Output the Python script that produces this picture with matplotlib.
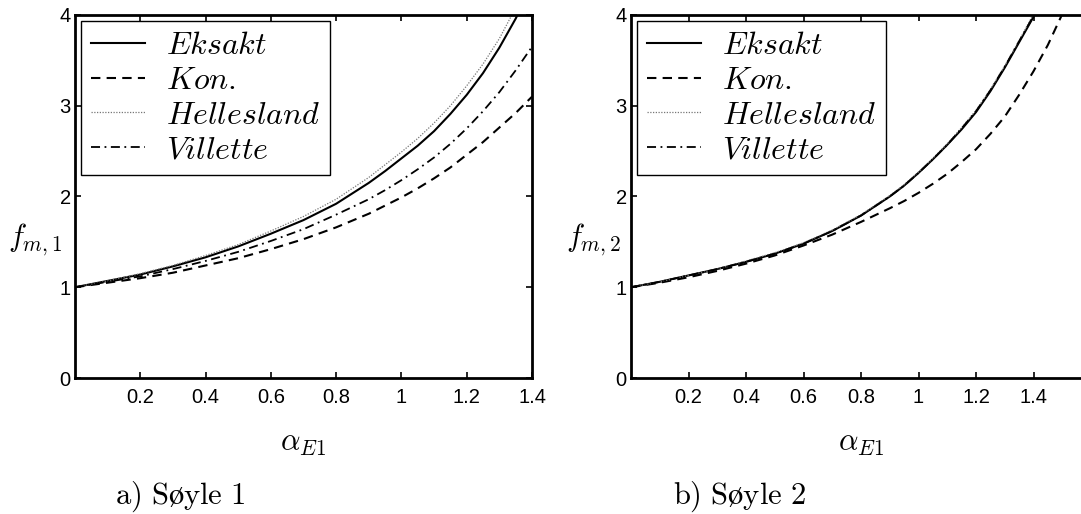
import matplotlib
matplotlib.use("Agg")
import matplotlib.pyplot as plt

plt.rcParams["mathtext.fontset"] = "cm"
plt.rcParams["font.family"] = ["Liberation Sans", "DejaVu Sans"]

# Column 1 (Søyle 1)
alpha_1 = [0.0, 0.1, 0.2, 0.3, 0.4, 0.5, 0.6, 0.7, 0.8, 0.9, 0.95, 1.0, 1.05, 1.1,
           1.15, 1.2, 1.25, 1.3, 1.35, 1.4]
eksakt_1 = [1.00, 1.07, 1.14, 1.23, 1.33, 1.45, 1.59, 1.74, 1.92, 2.15, 2.28, 2.42, 2.56, 2.72,
            2.91, 3.12, 3.36, 3.64, 3.96, 4.33]
kon_1 = [1.00, 1.05, 1.10, 1.16, 1.24, 1.32, 1.42, 1.53, 1.66, 1.81, 1.90, 1.99, 2.09, 2.20,
         2.32, 2.46, 2.60, 2.76, 2.92, 3.10]
hellesland_1 = [1.00, 1.07, 1.15, 1.24, 1.35, 1.47, 1.62, 1.78, 1.97, 2.21, 2.35, 2.49, 2.64, 2.81,
                3.00, 3.22, 3.46, 3.74, 4.08, 4.45]
villette_1 = [1.00, 1.06, 1.12, 1.20, 1.29, 1.39, 1.51, 1.64, 1.80, 1.97, 2.07, 2.18, 2.30, 2.43,
              2.58, 2.75, 2.94, 3.15, 3.39, 3.65]

# Column 2 (Søyle 2)
alpha_2 = [0.0, 0.1, 0.2, 0.3, 0.4, 0.5, 0.6, 0.7, 0.8, 0.9, 0.95, 1.0, 1.05, 1.1,
           1.15, 1.2, 1.25, 1.3, 1.35, 1.4, 1.45, 1.5, 1.55]
eksakt_2 = [1.00, 1.06, 1.13, 1.20, 1.28, 1.37, 1.48, 1.62, 1.79, 2.00, 2.12, 2.26, 2.41, 2.57,
            2.74, 2.93, 3.16, 3.42, 3.70, 3.98, 4.30, 4.65, 5.00]
kon_2 = [1.00, 1.05, 1.11, 1.18, 1.26, 1.35, 1.46, 1.58, 1.72, 1.87, 1.95, 2.04, 2.14, 2.25,
         2.38, 2.52, 2.69, 2.88, 3.12, 3.38, 3.67, 4.01, 4.40]
hellesland_2 = [1.00, 1.06, 1.13, 1.20, 1.29, 1.38, 1.49, 1.63, 1.80, 2.01, 2.13, 2.27, 2.42, 2.58,
                2.76, 2.95, 3.18, 3.44, 3.72, 4.01, 4.33, 4.68, 5.03]
villette_2 = [1.00, 1.06, 1.13, 1.20, 1.28, 1.37, 1.48, 1.62, 1.79, 2.00, 2.12, 2.26, 2.41, 2.57,
              2.75, 2.94, 3.17, 3.43, 3.71, 3.99, 4.31, 4.66, 5.01]

x_ticks = [0.2, 0.4, 0.6, 0.8, 1.0, 1.2, 1.4]
x_ticklabels = ["0.2", "0.4", "0.6", "0.8", "1", "1.2", "1.4"]
y_ticks = [0, 1, 2, 3, 4]
labels = [r"$Eksakt$", r"$Kon.$", r"$Hellesland$", r"$Villette$"]

W, H = 1081, 514
fig = plt.figure(figsize=(W / 100, H / 100), dpi=100)

ax1 = fig.add_axes([75 / W, (H - 378) / H, 457 / W, 363 / H])
ax2 = fig.add_axes([631 / W, (H - 378) / H, 460 / W, 363 / H])


def draw(ax, a, ek, ko, he, vi, xmax, ylab, ylab_x, caption, cap_x):
    width_px = ax.get_position().width * W
    ax.plot(a, ek, color="black", lw=1.5, ls="-", label=labels[0])
    ax.plot(a, ko, color="black", lw=1.5, ls=(0, (4.5, 3)), label=labels[1])
    ax.plot(a, he, color="#777777", lw=0.9, ls=(0, (1, 1.2)), label=labels[2])
    ax.plot(a, vi, color="black", lw=1.3, ls=(0, (5, 2.5, 1, 2.5)), label=labels[3])
    ax.set_xlim(0, xmax)
    ax.set_ylim(0, 4)
    ax.set_xticks(x_ticks)
    ax.set_xticklabels(x_ticklabels)
    ax.set_yticks(y_ticks)
    ax.tick_params(direction="in", top=True, right=True, length=4, width=1.2,
                   labelsize=14.5, pad=7)
    ax.tick_params(axis="y", pad=3)
    for s in ax.spines.values():
        s.set_linewidth(2.0)
    ax.set_xlabel(r"$\alpha_{E1}$", fontsize=22, va="center")
    ax.xaxis.set_label_coords(0.5, -(443 - 378) / 363)
    ax.set_ylabel(ylab, fontsize=22, rotation=0, ha="center", va="center")
    ax.yaxis.set_label_coords((ylab_x - ax.get_position().x0 * W) / width_px,
                              (378 - 240) / 363)
    leg = ax.legend(loc="upper left", fontsize=23, handlelength=1.7,
                    fancybox=False, framealpha=1, edgecolor="black",
                    borderaxespad=0.2, labelspacing=0.15, handletextpad=0.65,
                    borderpad=0.3)
    leg.get_frame().set_linewidth(1.0)
    fig.text(cap_x, 17 / H, caption, fontsize=22, ha="left", va="center")


draw(ax1, alpha_1, eksakt_1, kon_1, hellesland_1, villette_1, 1.4,
     r"$f_{m,1}$", 35, r"$\mathrm{a)\ S\o yle\ 1}$", 115 / W)
draw(ax2, alpha_2, eksakt_2, kon_2, hellesland_2, villette_2, 1.6,
     r"$f_{m,2}$", 594, r"$\mathrm{b)\ S\o yle\ 2}$", 673 / W)

fig.savefig("out.png", dpi=100)
